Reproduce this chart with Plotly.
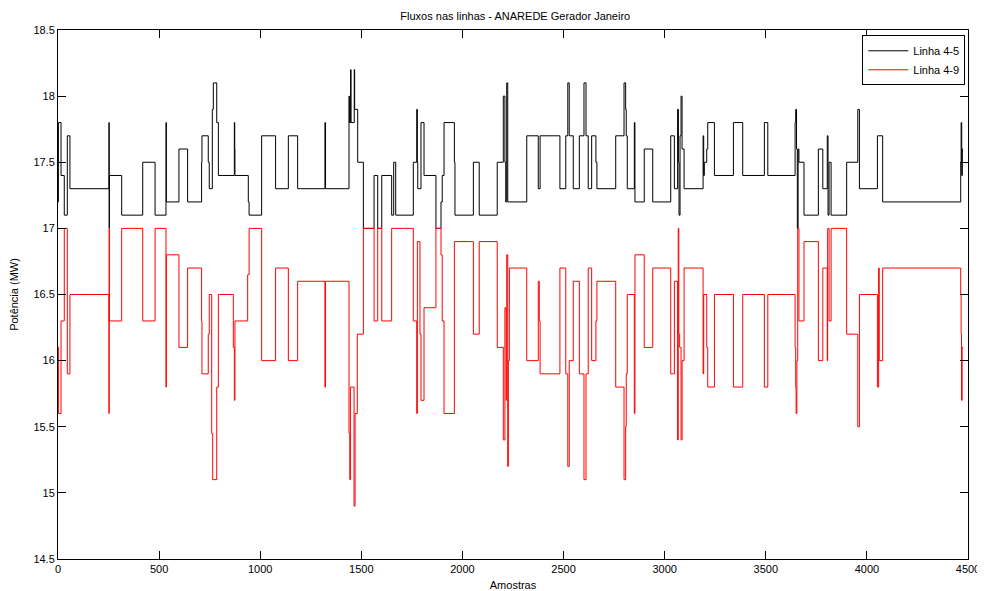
import plotly.graph_objects as go

# Step-change data: sample index where a new value starts, and that value
linha45_amostra = [0, 2, 15, 31, 46, 59, 252, 253, 254, 315, 419, 480, 534, 536, 598, 641, 710, 712, 743, 748,
                   763, 768, 785, 793, 872, 874, 875, 941, 945, 1007, 1076, 1139, 1185, 1320, 1323,
                   1439, 1441, 1447, 1449, 1465, 1467, 1482, 1510, 1563, 1581, 1601, 1650, 1660, 1670,
                   1757, 1774, 1777, 1779, 1795, 1810, 1869, 1894, 1900, 1909, 1960, 1963, 2054, 2083,
                   2172, 2202, 2210, 2214, 2219, 2224, 2318, 2375, 2384, 2482, 2511, 2521, 2528, 2548,
                   2578, 2601, 2611, 2622, 2639, 2660, 2665, 2758, 2799, 2807, 2810, 2815, 2850, 2853,
                   2899, 2941, 3030, 3048, 3064, 3068, 3071, 3076, 3081, 3086, 3096, 3190, 3193, 3196,
                   3208, 3213, 3246, 3340, 3386, 3493, 3510, 3645, 3648, 3652, 3656, 3660, 3664, 3689,
                   3760, 3782, 3804, 3808, 3813, 3823, 3900, 3955, 3963, 4052, 4078, 4464, 4466, 4469,
                   4472, 4476]
linha45_valor = [17.2, 17.8, 17.4, 17.1, 17.7, 17.3, 17.8, 17.0, 17.4, 17.1, 17.5, 17.1, 17.8, 17.2, 17.6, 17.2, 17.5, 17.7, 17.5, 17.3,
                 17.9, 18.1, 17.8, 17.4, 17.8, 17.6, 17.4, 17.2, 17.1, 17.7, 17.3, 17.7, 17.3, 17.8, 17.3,
                 18.0, 17.8, 18.2, 17.8, 18.2, 17.9, 17.5, 17.0, 17.4, 17.0, 17.4, 17.1, 17.5, 17.1,
                 17.5, 17.9, 17.5, 17.3, 17.8, 17.4, 17.0, 17.2, 17.4, 17.8, 17.5, 17.1, 17.5, 17.1,
                 17.5, 18.0, 17.5, 17.2, 18.1, 17.2, 17.7, 17.3, 17.7, 17.3, 17.7, 18.1, 17.7, 17.3,
                 17.7, 18.1, 17.7, 17.3, 17.7, 17.5, 17.3, 17.7, 18.1, 17.9, 17.7, 17.3, 17.8, 17.2,
                 17.6, 17.2, 17.7, 17.3, 17.9, 17.5, 17.1, 17.7, 18.0, 17.6, 17.3, 17.7, 17.4, 17.5,
                 17.6, 17.8, 17.4, 17.8, 17.4, 17.8, 17.4, 17.8, 17.9, 17.6, 17.0, 17.6, 17.5, 17.1,
                 17.6, 17.3, 17.7, 17.1, 17.5, 17.1, 17.5, 17.9, 17.3, 17.7, 17.2, 17.5, 17.8, 17.4,
                 17.6, 17.6]

linha49_amostra = [0, 2, 15, 31, 46, 59, 252, 253, 254, 315, 419, 480, 534, 536, 598, 641, 710, 712, 743, 748,
                   760, 765, 785, 793, 867, 872, 875, 938, 945, 1007, 1076, 1139, 1185, 1320, 1323,
                   1439, 1443, 1446, 1464, 1469, 1480, 1510, 1563, 1581, 1601, 1650, 1757, 1774, 1777,
                   1790, 1795, 1810, 1869, 1894, 1900, 1909, 1960, 2054, 2083, 2172, 2202, 2210, 2216,
                   2219, 2224, 2227, 2232, 2318, 2375, 2380, 2384, 2482, 2511, 2521, 2528, 2548, 2578,
                   2601, 2611, 2622, 2639, 2660, 2665, 2758, 2799, 2807, 2810, 2815, 2850, 2853, 2899,
                   2941, 3030, 3048, 3064, 3067, 3070, 3074, 3081, 3086, 3096, 3190, 3193, 3208, 3213,
                   3246, 3340, 3386, 3493, 3510, 3645, 3648, 3650, 3654, 3658, 3664, 3689, 3760, 3782,
                   3804, 3806, 3813, 3823, 3900, 3955, 3963, 4052, 4058, 4061, 4078, 4464, 4466, 4468,
                   4471, 4476]
linha49_valor = [16.1, 15.6, 16.3, 17.0, 15.9, 16.5, 15.6, 17.0, 16.3, 17.0, 16.3, 17.0, 15.8, 16.8, 16.1, 16.7, 16.3, 15.9, 16.2, 16.5,
                 15.45, 15.1, 15.8, 16.5, 16.1, 15.7, 16.3, 16.65, 17.0, 16.0, 16.7, 16.0, 16.6, 15.8, 16.6,
                 15.45, 15.1, 15.8, 14.9, 15.6, 16.2, 17.0, 16.3, 17.0, 16.3, 17.0, 16.3, 15.6, 16.9,
                 16.2, 15.7, 16.4, 17.0, 16.8, 16.3, 15.6, 16.9, 16.2, 16.9, 16.1, 15.4, 16.4, 15.7,
                 16.8, 15.2, 16.0, 16.7, 16.0, 16.6, 16.3, 15.9, 16.7, 15.9, 15.2, 16.0, 16.6, 15.9,
                 15.1, 15.9, 16.7, 16.0, 16.3, 16.6, 15.8, 15.1, 15.5, 15.9, 16.5, 15.6, 16.8, 16.1,
                 16.7, 15.9, 16.6, 15.4, 17.0, 16.2, 16.1, 15.4, 16.0, 16.7, 15.9, 16.5, 16.1, 15.8,
                 16.5, 15.8, 16.5, 15.8, 16.5, 16.1, 15.8, 15.6, 16.0, 17.0, 16.3, 16.9, 16.0, 16.7,
                 16.0, 17.0, 16.3, 17.0, 16.2, 15.5, 16.5, 15.8, 16.7, 16.0, 16.7, 16.5, 16.2, 15.7,
                 16.1, 16.1]

x_ticks = [0, 500, 1000, 1500, 2000, 2500, 3000, 3500, 4000, 4500]
y_ticks = [14.5, 15, 15.5, 16, 16.5, 17, 17.5, 18, 18.5]
y_ticklabels = ["14.5", "15", "15.5", "16", "16.5", "17", "17.5", "18", "18.5"]

fig = go.Figure()
fig.add_trace(go.Scatter(x=linha45_amostra, y=linha45_valor, mode="lines", name="Linha 4-5",
                         line=dict(color="black", width=1, shape="hv")))
fig.add_trace(go.Scatter(x=linha49_amostra, y=linha49_valor, mode="lines", name="Linha 4-9",
                         line=dict(color="red", width=1, shape="hv")))

font = "Liberation Sans, Arial, sans-serif"
axis_common = dict(showline=True, linecolor="black", linewidth=1, mirror="ticks",
                   ticks="inside", ticklen=8, tickcolor="black", showgrid=False, zeroline=False,
                   automargin=False,
                   tickfont=dict(family=font, size=11, color="black"))
fig.update_xaxes(range=[0, 4500], tickvals=x_ticks, title=dict(text="Amostras", standoff=7,
                 font=dict(family=font, size=11, color="black")), **axis_common)
fig.update_yaxes(range=[14.5, 18.5], tickvals=y_ticks, ticktext=y_ticklabels,
                 title=dict(text="Potência (MW)", standoff=12, font=dict(family=font, size=11, color="black")),
                 **axis_common)

fig.update_layout(
    width=985, height=591,
    margin=dict(l=50, r=25, t=22, b=40, autoexpand=False),
    paper_bgcolor="white", plot_bgcolor="white",
    title=dict(text="Fluxos nas linhas - ANAREDE Gerador Janeiro", x=0.515, xanchor="center",
               y=1 - 8 / 591, yanchor="middle", font=dict(family=font, size=11, color="black")),
    legend=dict(x=0.997, y=0.99, xanchor="right", yanchor="top", bgcolor="white",
                bordercolor="black", borderwidth=1, font=dict(family=font, size=11, color="black"),
                tracegroupgap=0, itemwidth=40),
    showlegend=True,
)

fig.write_html("out.html")
